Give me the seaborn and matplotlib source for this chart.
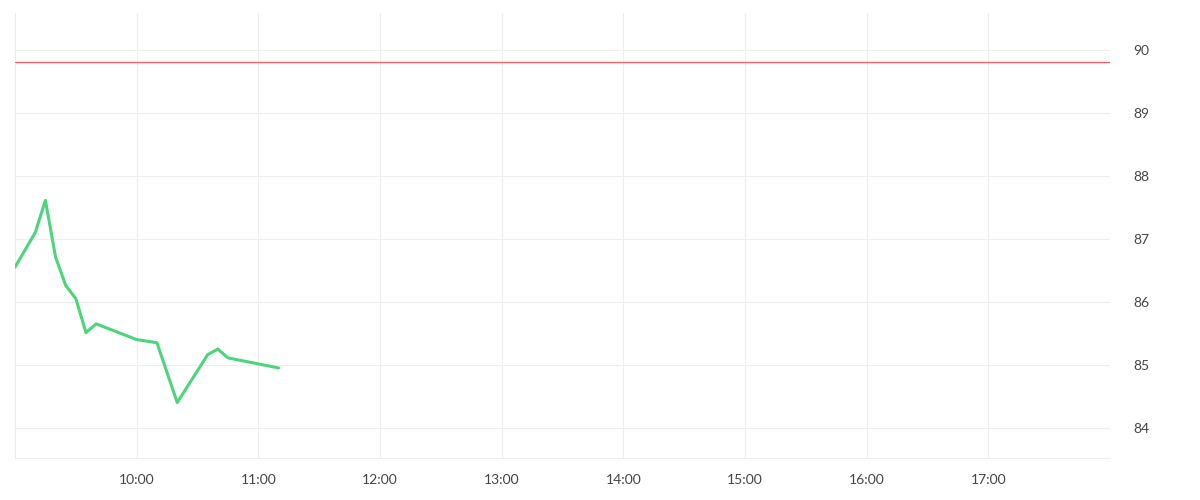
import pandas as pd
import numpy as np
import seaborn as sns
import matplotlib.pyplot as plt
import matplotlib.dates as mdates

# data
times = ["09:00", "09:10", "09:15", "09:20", "09:25", "09:30", "09:35", "09:40",
         "10:00", "10:10", "10:20", "10:35", "10:40", "10:45", "11:10"]
values = [86.55, 87.10, 87.61, 86.71, 86.26, 86.05, 85.51, 85.65,
          85.40, 85.35, 84.40, 85.16, 85.25, 85.11, 84.95]
ref_level = 89.80
x_start = "09:00"
x_end = "18:00"
hour_ticks = ["09:00", "10:00", "11:00", "12:00", "13:00", "14:00", "15:00", "16:00", "17:00", "18:00"]
y_ticks = [84, 85, 86, 87, 88, 89, 90]

day = "2024-01-02 "
df = pd.DataFrame({"time": pd.to_datetime([day + t for t in times]), "value": values})

sns.set_style("white")
plt.rcParams['font.family'] = ['Lato', 'DejaVu Sans']

fig = plt.figure(figsize=(12, 5), dpi=100)
ax = fig.add_axes([0.0125, 0.084, 0.9125, 0.8906])

sns.lineplot(data=df, x="time", y="value", ax=ax, color="#4cd57a", linewidth=2.2)
ax.axhline(ref_level, color="#ff5a5f", linewidth=0.9)

ax.set_xlim(pd.Timestamp(day + x_start), pd.Timestamp(day + x_end))
ax.set_ylim(83.52, 90.59)

ticks = pd.to_datetime([day + t for t in hour_ticks])
ax.set_xticks(ticks)
labels = [t if t not in ("09:00", "18:00") else "" for t in hour_ticks]
ax.set_xticklabels(labels)
ax.set_yticks(y_ticks)

ax.yaxis.tick_right()
ax.grid(True, color="#eeeeee", linewidth=0.8)
ax.tick_params(axis="x", length=6.5, color="#eeeeee", width=0.8, labelsize=10, labelcolor="#444444", pad=5)
ax.tick_params(axis="y", length=0, labelsize=10, labelcolor="#444444", pad=17)

for side in ["top", "left", "right"]:
    ax.spines[side].set_visible(False)
ax.spines["bottom"].set_color("#eeeeee")
ax.spines["bottom"].set_linewidth(0.8)
ax.set_xlabel("")
ax.set_ylabel("")

fig.savefig("out.png", dpi=100)
